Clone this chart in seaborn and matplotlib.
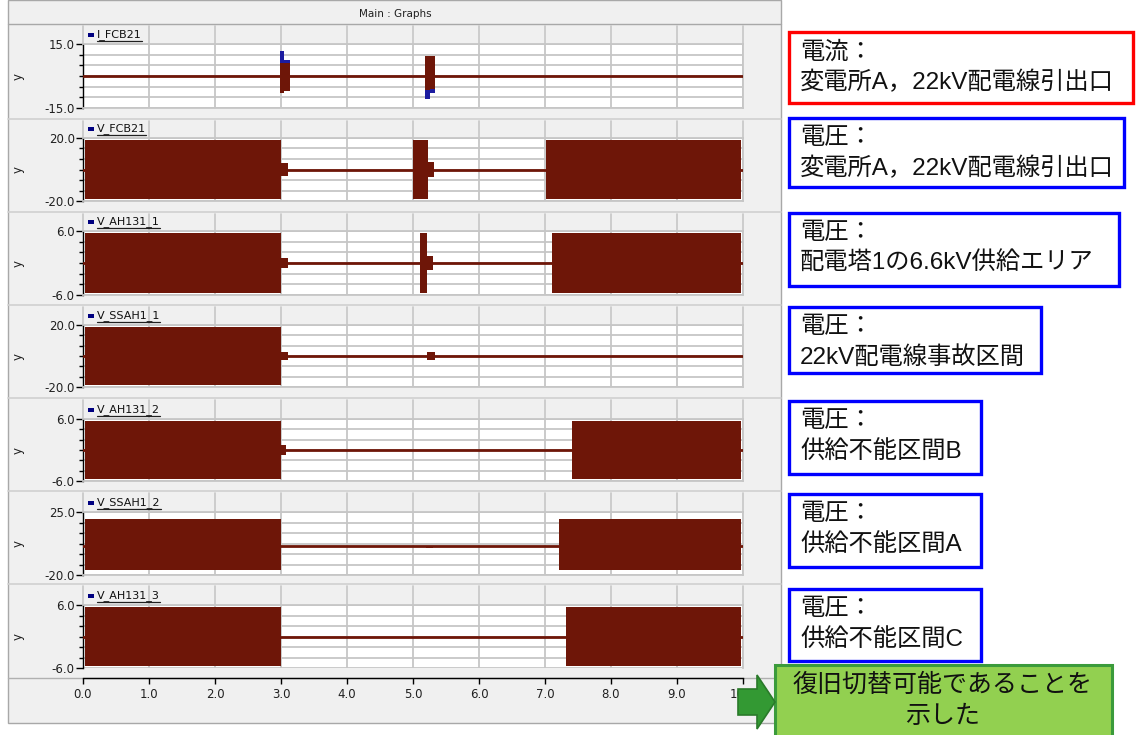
import numpy as np
import pandas as pd
import matplotlib
matplotlib.use("Agg")
import matplotlib.pyplot as plt
import seaborn as sns
from matplotlib.patches import Rectangle, Polygon
from matplotlib.ticker import FixedLocator, FormatStrFormatter

sns.set_theme(style="white")
plt.rcParams['font.family'] = ['DejaVu Sans']
jp = ['Liberation Sans', 'Noto Sans CJK JP']

W, H = 1136, 735

#%% data (time in s, envelope values)
names = ["I_FCB21", "V_FCB21", "V_AH131_1", "V_SSAH1_1", "V_AH131_2", "V_SSAH1_2", "V_AH131_3"]
ymax = [15.0, 20.0, 6.0, 20.0, 6.0, 25.0, 6.0]
ymin = [-15.0, -20.0, -6.0, -20.0, -6.0, -20.0, -6.0]
level = [0.0, 0.0, 0.0, 0.0, 0.0, 0.4, 0.0]

t1 = [0.0, 2.98, 3.05, 3.13, 5.18, 5.25, 5.33, 10.0]
hi1 = [0.0, 6.0, 6.0, 0.0, 9.4, 9.4, 0.0, 0.0]
lo1 = [0.0, -8.0, -7.0, 0.0, -6.5, -6.0, 0.0, 0.0]
blue_hi1 = [0.0, 11.7, 7.5, 0.0, 9.0, 9.0, 0.0, 0.0]
blue_lo1 = [0.0, -8.0, -7.0, 0.0, -10.8, -8.0, 0.0, 0.0]

t2 = [0.03, 3.0, 3.1, 5.0, 5.23, 5.32, 7.02, 9.97]
hi2 = [18.5, 4.4, 0.0, 18.5, 4.7, 0.0, 18.5, 18.5]
lo2 = [-18.5, -4.4, 0.0, -18.5, -4.7, 0.0, -18.5, -18.5]

t3 = [0.03, 3.0, 3.1, 5.1, 5.21, 5.3, 7.1, 9.97]
hi3 = [5.6, 1.0, 0.0, 5.6, 1.4, 0.0, 5.6, 5.6]
lo3 = [-5.6, -1.0, 0.0, -5.6, -1.4, 0.0, -5.6, -5.6]

t4 = [0.03, 3.0, 3.1, 5.21, 5.33, 9.97]
hi4 = [18.6, 2.6, 0.0, 2.9, 0.0, 0.0]
lo4 = [-18.6, -2.6, 0.0, -2.9, 0.0, 0.0]

t5 = [0.03, 3.0, 3.08, 7.41, 9.97]
hi5 = [5.6, 0.9, 0.0, 5.6, 5.6]
lo5 = [-5.6, -0.9, 0.0, -5.6, -5.6]

t6 = [0.03, 3.0, 5.2, 5.3, 7.21, 9.97]
hi6 = [20.0, 0.0, 0.8, 0.0, 20.0, 20.0]
lo6 = [-16.5, 0.0, -0.4, 0.0, -16.5, -16.5]

t7 = [0.03, 3.0, 7.32, 9.97]
hi7 = [5.6, 0.0, 5.6, 5.6]
lo7 = [-5.6, 0.0, -5.6, -5.6]

env = [(t1, hi1, lo1), (t2, hi2, lo2), (t3, hi3, lo3), (t4, hi4, lo4),
       (t5, hi5, lo5), (t6, hi6, lo6), (t7, hi7, lo7)]
xticks = [0.0, 1.0, 2.0, 3.0, 4.0, 5.0, 6.0, 7.0, 8.0, 9.0, 10.0]

box_lines = [
    ("電流：", "変電所A，22kV配電線引出口"),
    ("電圧：", "変電所A，22kV配電線引出口"),
    ("電圧：", "配電塔1の6.6kV供給エリア"),
    ("電圧：", "22kV配電線事故区間"),
    ("電圧：", "供給不能区間B"),
    ("電圧：", "供給不能区間A"),
    ("電圧：", "供給不能区間C"),
]
note_lines = ("復旧切替可能であることを", "示した")

#%% layout (pixels)
ax_left, ax_right = 83, 743
ax_top = [44, 138, 231, 325, 419, 512, 605]
ax_bot = [108, 201, 295, 387, 481, 575, 668]
seps = [24, 119, 212, 305, 398, 491, 584]
boxes = [(789, 32, 1133, 103), (789, 118, 1124, 187), (789, 213, 1119, 286),
         (789, 307, 1041, 373), (789, 401, 981, 474), (789, 494, 981, 567),
         (789, 589, 981, 661)]
box_colors = ['#ff0000'] + ['#0000ff'] * 6

red = '#6e1608'
grid_c = '#c6c6c6'

fig = plt.figure(figsize=(W / 100, H / 100), dpi=100)

bg = fig.add_axes([0, 0, 1, 1], zorder=0)
bg.set_xlim(0, W)
bg.set_ylim(H, 0)
bg.axis('off')
bg.add_patch(Rectangle((8, 0), 773, 723, facecolor='#f0f0f0', edgecolor='#a8a8a8', lw=1))
bg.plot([8, 781], [24, 24], color='#a8a8a8', lw=1)
for s in seps[1:]:
    bg.plot([8, 781], [s, s], color='#d0d0d0', lw=1.2)
bg.plot([8, 781], [678, 678], color='#b0b0b0', lw=1)
bg.text(395, 14, "Main : Graphs", ha='center', va='center', fontsize=7.5, color='#202020')

for i in range(7):
    top, bot = ax_top[i], ax_bot[i]
    # vertical grid continues up to the separator
    for xt in xticks:
        px = ax_left + xt * (ax_right - ax_left) / 10
        bg.plot([px, px], [seps[i] + 2, top], color=grid_c, lw=1.2, zorder=1)
    ax = fig.add_axes([ax_left / W, 1 - bot / H, (ax_right - ax_left) / W, (bot - top) / H], zorder=2)
    ax.set_facecolor('white')
    ax.set_xlim(0, 10)
    ax.set_ylim(ymin[i], ymax[i])
    ax.xaxis.set_major_locator(FixedLocator(xticks))
    ax.yaxis.set_major_locator(FixedLocator([ymin[i], ymax[i]]))
    ax.yaxis.set_minor_locator(FixedLocator(list(np.linspace(ymin[i], ymax[i], 7)[1:-1])))
    ax.yaxis.set_major_formatter(FormatStrFormatter('%.1f'))
    ax.grid(True, which='both', color=grid_c, lw=1.3)
    ax.set_axisbelow(True)
    ax.tick_params(axis='y', which='major', length=5, width=1, color='black', labelsize=8.5,
                   left=True, pad=1, labelcolor='#202020')
    ax.tick_params(axis='y', which='minor', length=3, width=1, color='black', left=True)
    for sp in ['top', 'right', 'bottom']:
        ax.spines[sp].set_color(grid_c)
        ax.spines[sp].set_linewidth(1.3)
    ax.spines['left'].set_color('black')
    ax.spines['left'].set_linewidth(1)

    t, hi, lo = env[i]
    if i == 0:
        ax.fill_between(t, blue_lo1, blue_hi1, step='post', color='#1c1ca0', lw=0, zorder=3)
    ax.fill_between(t, lo, hi, step='post', color=red, lw=0, zorder=4)
    flat = pd.DataFrame({'t': [0.0, 10.0], 'v': [level[i], level[i]]})
    sns.lineplot(data=flat, x='t', y='v', color=red, lw=2, ax=ax, zorder=5)
    ax.set_xlabel('')
    ax.set_ylabel('')

    if i < 6:
        ax.tick_params(axis='x', length=0, labelbottom=False)
    else:
        ax.spines['bottom'].set_position(('outward', 7.2))
        ax.spines['bottom'].set_color('black')
        ax.spines['bottom'].set_linewidth(1)
        ax.xaxis.set_major_formatter(FormatStrFormatter('%.1f'))
        ax.tick_params(axis='x', length=4, width=1, color='black', labelsize=8.5,
                       bottom=True, pad=3, labelcolor='#202020')

    # signal name with legend square, underlined
    bg.add_patch(Rectangle((88, top - 11), 6, 4, facecolor='#000080', edgecolor='none', zorder=3))
    bg.text(97, top - 9, names[i], ha='left', va='center', fontsize=8, color='#101010', zorder=3)
    bg.text(18, (top + bot) / 2, 'y', rotation=90, ha='center', va='center', fontsize=8.5, color='#202020')

fig.canvas.draw()
rend = fig.canvas.get_renderer()
inv = bg.transData.inverted()
for txt in list(bg.texts):
    if txt.get_text() in names:
        bb = txt.get_window_extent(rend)
        (x0, y0), (x1, y1) = inv.transform([[bb.x0, bb.y0], [bb.x1, bb.y1]])
        bg.plot([x0, x1], [y0 + 0.5, y0 + 0.5], color='#202020', lw=0.9, zorder=3)

#%% annotation boxes on top
ov = fig.add_axes([0, 0, 1, 1], zorder=10)
ov.set_xlim(0, W)
ov.set_ylim(H, 0)
ov.axis('off')
ov.patch.set_alpha(0)
for (x0, y0, x1, y1), c, (l1, l2) in zip(boxes, box_colors, box_lines):
    ov.add_patch(Rectangle((x0, y0), x1 - x0, y1 - y0, facecolor='white', edgecolor=c, lw=2.4))
    ov.text(x0 + 11, y0 + 20, l1, ha='left', va='center', fontsize=17.5, family=jp, color='#111111')
    ov.text(x0 + 11, y0 + 50, l2, ha='left', va='center', fontsize=17.5, family=jp, color='#111111')

ov.add_patch(Rectangle((775, 665), 337, 80, facecolor='#92d050', edgecolor='#3b9b3b', lw=2.2, clip_on=False))
ov.text(943, 685, note_lines[0], ha='center', va='center', fontsize=18, family=jp, color='#111111')
ov.text(943, 716, note_lines[1], ha='center', va='center', fontsize=18, family=jp, color='#111111')
ov.add_patch(Polygon([(738, 689), (757, 689), (757, 675), (775, 702), (757, 729), (757, 715), (738, 715)],
                     closed=True, facecolor='#339933', edgecolor='#2a7a2a', lw=1.2))

fig.savefig("out.png", dpi=100)
